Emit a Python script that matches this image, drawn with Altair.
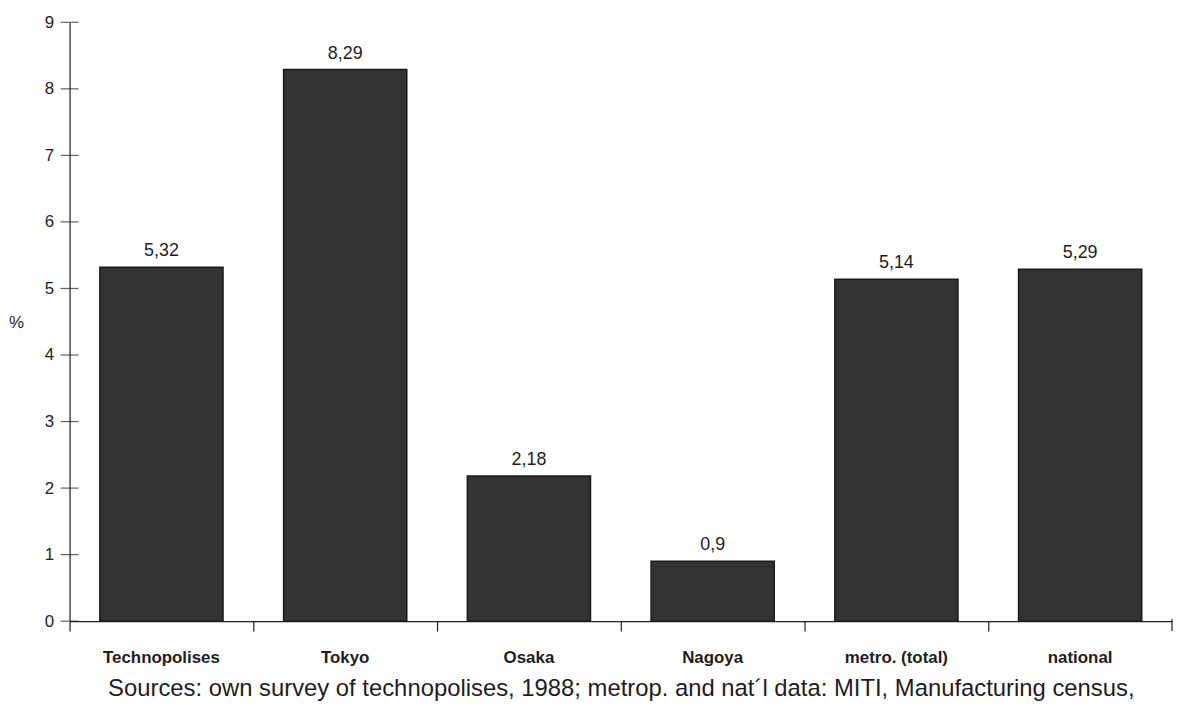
import altair as alt
import pandas as pd

categories = ["Technopolises", "Tokyo", "Osaka", "Nagoya", "metro. (total)", "national"]
values = [5.32, 8.29, 2.18, 0.9, 5.14, 5.29]
value_labels = ["5,32", "8,29", "2,18", "0,9", "5,14", "5,29"]
y_ticks = [0, 1, 2, 3, 4, 5, 6, 7, 8, 9]
source_text = "Sources: own survey of technopolises, 1988; metrop. and nat\u00b4l data: MITI, Manufacturing census,"

W, H = 1110, 603
FONT = "Liberation Sans"
INK = "#1e1e1e"

df = pd.DataFrame({"cat": categories, "value": values, "lab": value_labels})
ticks_df = pd.DataFrame({"value": y_ticks})

yscale = alt.Scale(domain=[0, 9], nice=False, zero=True)
yaxis = alt.Axis(
    values=y_ticks, grid=False, ticks=False, domain=True, domainColor=INK, domainWidth=1.2,
    labelFont=FONT, labelFontSize=17, labelColor=INK, labelPadding=16,
    title="%", titleAngle=0, titleFont=FONT, titleFontSize=17, titleFontWeight="normal",
    titleColor=INK, titleX=-54, titleY=302, titleAlign="center", titleBaseline="middle",
)
xscale = alt.Scale(paddingInner=0, paddingOuter=0)
xaxis = alt.Axis(
    bandPosition=0, grid=False, ticks=True, tickSize=10, tickColor=INK, tickWidth=1.2,
    domainColor=INK, domainWidth=1.2, labelAngle=0,
    labelFont=FONT, labelFontSize=17, labelFontWeight="bold", labelColor=INK, labelPadding=19,
    labelBaseline="top",
    title=source_text, titleFont=FONT, titleFontSize=24, titleFontWeight="normal",
    titleColor=INK, titlePadding=11,
)

x_enc = alt.X("cat:N", sort=categories, scale=xscale, axis=xaxis)
y_enc = alt.Y("value:Q", scale=yscale, axis=yaxis)

bars = alt.Chart(df).mark_bar(size=124, color="#333333", stroke="#1a1a1a", strokeWidth=1.5).encode(
    x=x_enc, y=y_enc
)

text = alt.Chart(df).mark_text(
    font=FONT, fontSize=18, color=INK, baseline="alphabetic", dy=-11
).encode(x=x_enc, y=y_enc, text="lab:N")

yticks = alt.Chart(ticks_df).mark_tick(
    orient="horizontal", size=18, thickness=1.2, color=INK
).encode(y=y_enc, x=alt.value(0))

end_tick = alt.Chart(pd.DataFrame({"a": [0]})).mark_rule(color=INK, strokeWidth=1.2).encode(
    x=alt.value(W), y=alt.value(H - 2), y2=alt.value(H + 10)
)

chart = alt.layer(bars, text, yticks, end_tick).properties(
    width=W, height=H,
    autosize=alt.AutoSizeParams(type="none"),
    padding={"left": 62, "top": 12, "right": 2, "bottom": 80},
).configure(background="white").configure_view(stroke=None)

chart.save("out.html", embed_options={"renderer": "svg", "actions": False})
